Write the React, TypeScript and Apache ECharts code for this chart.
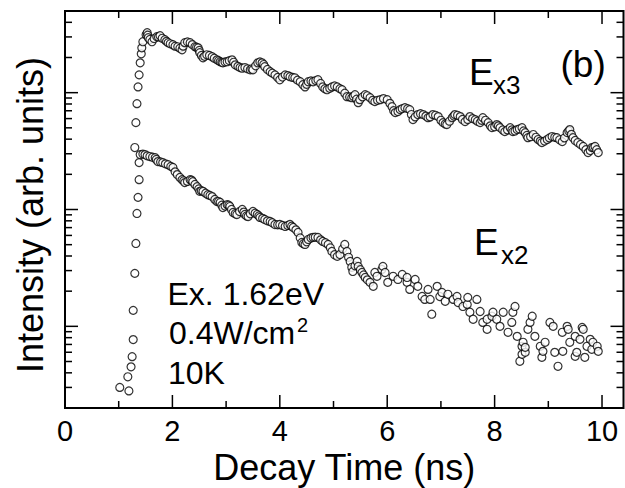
import React, { useEffect, useRef } from 'react';
import * as echarts from 'echarts';

const FONT = '"Liberation Sans", Arial, Helvetica, sans-serif';

// axis ranges
const X_MIN = 0;
const X_MAX = 10.4;
const Y_MIN = 0.2;
const Y_MAX = 500;

// tick values
const xTickLabels = [0, 2, 4, 6, 8, 10];
const xMajorTicks = [0, 2, 4, 6, 8, 10];
const xMinorTicks = [1, 3, 5, 7, 9];
const yMajorTicks = [1, 10, 100];
const yMinorTicks = [
  0.3, 0.4, 0.5, 0.6, 0.7, 0.8, 0.9,
  2, 3, 4, 5, 6, 7, 8, 9,
  20, 30, 40, 50, 60, 70, 80, 90,
  200, 300, 400,
];

// E_x3 decay trace: [time (ns), intensity (arb. units)]
const ex3Points = [
  [1.30, 33.9], [1.32, 55.4], [1.34, 80.5], [1.36, 112], [1.38, 142], [1.40, 180],
  [1.42, 215], [1.43, 242], [1.45, 273], [1.51, 313], [1.53, 326], [1.55, 295],
  [1.62, 273], [1.71, 301], [1.77, 307], [1.86, 284], [1.92, 268], [2.01, 257],
  [2.10, 247], [2.18, 233], [2.23, 268], [2.33, 268], [2.42, 247], [2.48, 242],
  [2.51, 220], [2.57, 199], [2.64, 211], [2.74, 203], [2.83, 191], [2.89, 184],
  [2.94, 180], [3.02, 184], [3.11, 191], [3.17, 173], [3.26, 164], [3.35, 164],
  [3.45, 157], [3.50, 157], [3.59, 180], [3.67, 180], [3.72, 167], [3.82, 151],
  [3.91, 142], [4.00, 129], [4.10, 142], [4.19, 137], [4.28, 134], [4.38, 124],
  [4.47, 112], [4.53, 124], [4.62, 124], [4.71, 129], [4.80, 112], [4.88, 106],
  [4.97, 112], [5.07, 112], [5.16, 106], [5.25, 92.4], [5.34, 90.6], [5.40, 96.1],
  [5.46, 82.1], [5.49, 87.1], [5.59, 96.1], [5.68, 90.6], [5.77, 83.8], [5.87, 87.1],
  [6.00, 87.1], [6.09, 75.9], [6.15, 67.5], [6.24, 71.6], [6.33, 74.4], [6.42, 71.6],
  [6.48, 58.8], [6.57, 64.9], [6.67, 64.9], [6.76, 61.1], [6.85, 64.9], [6.95, 62.4],
  [7.04, 55.4], [7.11, 53.3], [7.21, 61.1], [7.26, 64.9], [7.36, 62.4], [7.45, 56.5],
  [7.54, 62.4], [7.64, 58.8], [7.73, 55.4], [7.78, 61.1], [7.88, 55.4], [7.95, 50.2],
  [8.04, 53.3], [8.10, 50.2], [8.19, 46.4], [8.29, 50.2], [8.34, 46.4], [8.42, 48.3],
  [8.51, 50.2], [8.57, 45.5], [8.62, 41.2], [8.72, 43.8], [8.81, 39.7], [8.88, 37.4],
  [8.98, 39.7], [9.07, 42.1], [9.16, 41.2], [9.26, 38.1], [9.35, 45.5], [9.40, 48.3],
  [9.46, 41.2], [9.55, 37.4], [9.65, 34.6], [9.74, 30.7], [9.81, 33.9], [9.87, 34.6],
  [9.93, 30.7],
];

// further E_x3 samples
const ex3Band = [
  [1.54, 310], [1.58, 285], [1.66, 290], [1.74, 300], [1.81, 292], [1.89, 275],
  [1.96, 262], [2.05, 250], [2.14, 240], [2.20, 250], [2.28, 272], [2.37, 258],
  [2.45, 245], [2.50, 230], [2.54, 208], [2.60, 205], [2.69, 208], [2.78, 197],
  [2.86, 188], [2.92, 182], [2.98, 183], [3.06, 188], [3.14, 182], [3.22, 168],
  [3.30, 162], [3.40, 160], [3.48, 160], [3.55, 170], [3.63, 183], [3.70, 174],
  [3.77, 158], [3.86, 147], [3.96, 135], [4.05, 136], [4.15, 140], [4.24, 135],
  [4.33, 128], [4.43, 117], [4.50, 118], [4.58, 126], [4.67, 127], [4.76, 120],
  [4.84, 108], [4.93, 109], [5.02, 114], [5.12, 108], [5.21, 99], [5.30, 92],
  [5.37, 93], [5.43, 88], [5.54, 92], [5.63, 94], [5.73, 86], [5.82, 86],
  [5.93, 89], [6.05, 81], [6.12, 70], [6.20, 69], [6.28, 73], [6.38, 73],
  [6.45, 65], [6.52, 62], [6.62, 66], [6.72, 63], [6.80, 62], [6.90, 64],
  [7.00, 58], [7.08, 54], [7.16, 57], [7.24, 63], [7.31, 64], [7.40, 59],
  [7.50, 59], [7.59, 60], [7.68, 57], [7.76, 58], [7.83, 58], [7.92, 52],
  [8.00, 51], [8.07, 52], [8.15, 48], [8.24, 48], [8.32, 48], [8.38, 47],
  [8.46, 49], [8.54, 47], [8.60, 43], [8.67, 42], [8.77, 41.5], [8.85, 38.5],
  [8.93, 38.5], [9.02, 41], [9.12, 41.5], [9.21, 39.5], [9.30, 41], [9.38, 47],
  [9.43, 44], [9.50, 39], [9.60, 36], [9.70, 32.5], [9.78, 32], [9.84, 34],
  [9.90, 32.5],
];

// E_x2 decay trace: [time (ns), intensity (arb. units)]
const ex2Points = [
  [1.02, 0.30], [1.19, 0.28], [1.17, 0.37], [1.23, 0.45], [1.25, 0.55], [1.27, 0.77],
  [1.27, 1.37], [1.30, 2.84], [1.32, 5.12], [1.34, 9.25], [1.36, 12.7], [1.38, 18.0],
  [1.38, 25.2], [1.40, 29.5], [1.49, 29.5], [1.58, 28.4], [1.68, 27.8], [1.73, 25.7],
  [1.82, 25.2], [1.92, 24.2], [2.01, 22.9], [2.09, 19.9], [2.18, 18.0], [2.23, 17.0],
  [2.33, 18.0], [2.38, 17.3], [2.46, 15.7], [2.51, 14.3], [2.57, 14.3], [2.66, 13.4],
  [2.74, 12.9], [2.83, 11.7], [2.89, 11.5], [2.94, 10.4], [3.02, 11.0], [3.07, 10.6],
  [3.13, 9.43], [3.20, 9.06], [3.30, 10.0], [3.35, 9.06], [3.41, 8.71], [3.50, 9.61],
  [3.58, 9.06], [3.63, 8.55], [3.72, 8.21], [3.82, 7.90], [3.91, 7.44], [4.00, 7.44],
  [4.10, 7.16], [4.19, 7.44], [4.25, 7.02], [4.34, 6.36], [4.41, 5.22], [4.47, 5.02],
  [4.53, 5.54], [4.62, 5.77], [4.71, 5.77], [4.80, 5.33], [4.90, 5.02], [4.97, 4.38],
  [5.07, 3.97], [5.12, 4.12], [5.21, 5.02], [5.25, 4.38], [5.31, 3.59], [5.36, 2.95],
  [5.44, 3.59], [5.46, 3.26], [5.53, 2.89], [5.59, 2.62], [5.68, 2.38], [5.74, 2.20],
  [5.77, 2.89], [5.81, 2.68], [5.90, 3.07], [5.92, 3.26], [5.96, 2.89], [6.01, 2.38],
  [6.11, 2.68], [6.20, 2.52], [6.28, 2.78], [6.37, 2.38], [6.37, 2.62], [6.42, 2.07],
  [6.52, 2.52], [6.57, 2.20], [6.65, 1.80], [6.70, 1.70], [6.76, 2.07], [6.80, 1.70],
  [6.83, 1.27], [6.93, 2.20], [6.98, 1.80], [7.02, 1.95], [7.08, 1.64], [7.13, 1.88],
  [7.23, 1.70], [7.30, 1.80], [7.32, 1.60], [7.41, 1.48], [7.49, 1.54], [7.50, 1.77],
  [7.54, 1.32], [7.60, 1.15], [7.67, 1.70], [7.73, 1.34], [7.78, 1.08], [7.86, 0.943],
  [7.86, 1.15], [7.95, 1.22], [7.97, 1.32], [8.04, 1.15], [8.10, 1.00], [8.16, 1.32],
  [8.25, 0.889], [8.32, 1.08], [8.34, 1.32], [8.38, 1.48], [8.42, 0.821], [8.47, 0.502],
  [8.51, 0.675], [8.51, 0.576], [8.53, 0.730], [8.57, 0.599], [8.57, 0.661], [8.62, 0.943],
  [8.66, 1.08], [8.70, 1.22], [8.75, 0.821], [8.85, 0.675], [8.88, 0.543], [8.90, 0.611],
  [8.94, 0.730], [9.03, 1.08], [9.09, 1.00], [9.12, 0.599], [9.18, 0.455], [9.26, 0.889],
  [9.27, 0.611], [9.35, 1.00], [9.37, 0.943], [9.40, 0.730], [9.50, 0.821], [9.50, 0.554],
  [9.53, 0.599], [9.59, 0.774], [9.63, 0.98], [9.65, 0.943], [9.68, 0.543], [9.72, 0.675],
  [9.78, 0.774], [9.81, 0.636], [9.83, 0.730], [9.91, 0.675], [9.93, 0.611],
];

const ex2Band = [
  [1.45, 29.8], [1.53, 28.8], [1.63, 28.0], [1.70, 26.8], [1.78, 25.5], [1.87, 24.6],
  [1.97, 23.4], [2.05, 21.0], [2.14, 18.8], [2.21, 17.6], [2.28, 17.4], [2.36, 17.8],
  [2.42, 16.4], [2.49, 15.0], [2.54, 14.5], [2.62, 13.8], [2.70, 13.2], [2.79, 12.2],
  [2.86, 11.7], [2.92, 10.9], [2.98, 10.7], [3.05, 10.9], [3.10, 10.0], [3.17, 9.2],
  [3.25, 9.6], [3.33, 9.5], [3.38, 8.8], [3.45, 9.2], [3.54, 9.3], [3.61, 8.8],
  [3.68, 8.4], [3.77, 8.0], [3.86, 7.7], [3.96, 7.4], [4.05, 7.3], [4.15, 7.3],
  [4.22, 7.2], [4.30, 6.7], [4.38, 5.7], [4.44, 5.1], [4.50, 5.3], [4.58, 5.7],
  [4.66, 5.8], [4.76, 5.5], [4.85, 5.2], [4.94, 4.7], [5.02, 4.1], [5.17, 4.6],
  [5.28, 3.9], [5.34, 3.2], [5.40, 3.3], [5.50, 3.05], [5.56, 2.75], [5.63, 2.5],
];

const MAJOR_LEN = 13;
const MINOR_LEN = 7;

function byTime(a: number[], b: number[]) {
  return a[0] - b[0];
}

function buildTickData() {
  const d: number[][] = [];
  // side: 0 left, 1 right, 2 bottom, 3 top
  yMajorTicks.forEach((v) => { d.push([X_MIN, v, 0, MAJOR_LEN]); d.push([X_MAX, v, 1, MAJOR_LEN]); });
  yMinorTicks.forEach((v) => { d.push([X_MIN, v, 0, MINOR_LEN]); d.push([X_MAX, v, 1, MINOR_LEN]); });
  xMajorTicks.forEach((v) => { d.push([v, Y_MIN, 2, MAJOR_LEN]); d.push([v, Y_MAX, 3, MAJOR_LEN]); });
  xMinorTicks.forEach((v) => { d.push([v, Y_MIN, 2, MINOR_LEN]); d.push([v, Y_MAX, 3, MINOR_LEN]); });
  return d;
}

const circleStyle = {
  color: '#ffffff',
  borderColor: '#000000',
  borderWidth: 1.2,
};

function txt(text: string, x: number, y: number, size: number, extra: any = {}) {
  return {
    type: 'text',
    x,
    y,
    silent: true,
    z: 100,
    ...extra,
    style: {
      text,
      font: `${size}px ${FONT}`,
      fill: '#000',
      textAlign: extra.align || 'left',
      textVerticalAlign: 'middle',
    },
  };
}

export default function App() {
  const ref = useRef<HTMLDivElement>(null);

  useEffect(() => {
    if (!ref.current) return;
    const chart = echarts.init(ref.current, null, { renderer: 'svg' });
    const ex3Data = ex3Points.concat(ex3Band).sort(byTime);
    const ex2Data = ex2Points.concat(ex2Band).sort(byTime);
    const option: any = {
      animation: false,
      backgroundColor: '#ffffff',
      grid: {
        left: 65,
        top: 11,
        right: 1.5,
        bottom: 80,
        show: true,
        borderColor: '#000',
        borderWidth: 2,
        backgroundColor: 'transparent',
        containLabel: false,
        outerBoundsMode: 'none',
      },
      xAxis: {
        type: 'value',
        min: X_MIN,
        max: X_MAX,
        interval: 2,
        name: 'Decay Time (ns)',
        nameLocation: 'middle',
        nameGap: 41,
        nameTextStyle: { fontFamily: FONT, fontSize: 36, color: '#000' },
        axisLine: { show: false },
        axisTick: { show: false },
        splitLine: { show: false },
        axisLabel: {
          margin: 8,
          fontFamily: FONT,
          fontSize: 29,
          color: '#000',
          formatter: (v: number) => (xTickLabels.includes(v) ? String(v) : ''),
        },
      },
      yAxis: {
        type: 'log',
        logBase: 10,
        min: Y_MIN,
        max: Y_MAX,
        axisLine: { show: false },
        axisTick: { show: false },
        axisLabel: { show: false },
        splitLine: { show: false },
        minorTick: { show: false },
      },
      series: [
        {
          type: 'custom',
          name: 'frame ticks',
          silent: true,
          z: 5,
          data: buildTickData(),
          renderItem: (_p: any, api: any) => {
            const pt = api.coord([api.value(0), api.value(1)]);
            const side = api.value(2);
            const len = api.value(3);
            let dx = 0;
            let dy = 0;
            if (side === 0) dx = len;
            else if (side === 1) dx = -len;
            else if (side === 2) dy = -len;
            else dy = len;
            return {
              type: 'line',
              shape: { x1: pt[0], y1: pt[1], x2: pt[0] + dx, y2: pt[1] + dy },
              style: { stroke: '#000', lineWidth: 1.5 },
            };
          },
        },
        {
          type: 'scatter',
          name: 'Ex3',
          data: ex3Data,
          symbol: 'circle',
          symbolSize: 8,
          itemStyle: circleStyle,
          z: 3,
        },
        {
          type: 'scatter',
          name: 'Ex2',
          data: ex2Data,
          symbol: 'circle',
          symbolSize: 8,
          itemStyle: circleStyle,
          z: 3,
        },
      ],
      graphic: [
        {
          type: 'text',
          x: 30,
          y: 215,
          rotation: Math.PI / 2,
          silent: true,
          style: {
            text: 'Intensity (arb. units)',
            font: `36px ${FONT}`,
            fill: '#000',
            textAlign: 'center',
            textVerticalAlign: 'middle',
          },
        },
        txt('Ex. 1.62eV', 167.5, 294, 32),
        txt('0.4W/cm', 169, 333, 32),
        txt('2', 297, 325, 20),
        txt('10K', 168, 373, 32),
        txt('E', 469, 72.5, 37),
        txt('x3', 493, 84.5, 26),
        txt('(b)', 560.5, 64, 37),
        txt('E', 474, 242.5, 37),
        txt('x2', 501, 254.5, 26),
      ],
    };
    chart.setOption(option);
    return () => chart.dispose();
  }, []);

  return (
    <div
      ref={ref}
      style={{ position: 'absolute', left: 0, top: 0, width: 625, height: 488, background: '#fff' }}
    />
  );
}
